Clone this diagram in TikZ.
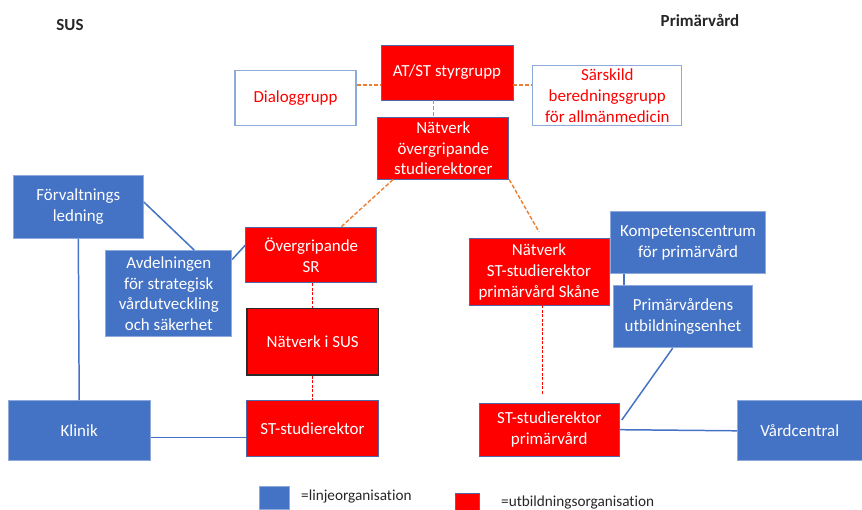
\documentclass[tikz,border=0pt]{standalone}
\usepackage{fontspec}
\setmainfont[Ligatures={NoCommon}]{Carlito}
\usetikzlibrary{calc}
\definecolor{lineblue}{HTML}{4472C4}
\definecolor{lightblue}{HTML}{8EAADB}
\definecolor{redfill}{HTML}{FF0000}
\definecolor{redborder}{HTML}{4F69A8}
\definecolor{orangeline}{HTML}{ED7D31}
\definecolor{darkborder}{HTML}{2B2B2B}
\tikzset{
  box/.style={rectangle, inner sep=0pt, align=center, font=\fontsize{17}{21}\selectfont},
  bluebox/.style={box, fill=lineblue, draw=lightblue, line width=1pt, text=white},
  redbox/.style={box, fill=redfill, draw=redborder, line width=0.9pt, text=white},
  whitebox/.style={box, fill=white, draw=lightblue, line width=1.1pt, text=redfill},
  orangedash/.style={draw=orangeline, line width=1.4pt, dash pattern=on 4pt off 2pt},
  reddash/.style={draw=redfill, line width=1.4pt, dash pattern=on 3pt off 1.5pt},
  blueline/.style={draw=lineblue, line width=1.5pt},
  header/.style={font=\fontsize{17}{21}\selectfont\bfseries, text=black!85},
  legendtext/.style={font=\fontsize{15.3}{18}\selectfont, text=black!85, anchor=west, inner sep=0pt}
}
\begin{document}
\begin{tikzpicture}[x=1bp,y=-1bp]
\useasboundingbox (0,0) rectangle (862,510);

% headers
\node[header] (sus) at (70,25) {SUS};
\node[header] (prim) at (700,20) {Primärvård};

% top
\node[whitebox, minimum width=121bp, minimum height=55bp] (dialog) at (295.5,98.3) {Dialoggrupp};
\node[whitebox, minimum width=149bp, minimum height=60bp] (sar) at (607.3,95.8) {Särskild\\beredningsgrupp\\för allmänmedicin};

\coordinate (yl) at (0,85);
\coordinate (xv) at (433.3,0);

\node[redbox, minimum width=132bp, minimum height=55bp] (at) at (447,72.5) {AT/ST styrgrupp};
\node[redbox, minimum width=131bp, minimum height=62bp] (nov) at (443.3,148.2) {Nätverk\\övergripande\\studierektorer};

% SUS side
\node[bluebox, minimum width=130bp, minimum height=62.6bp] (forv) at (78.3,207) {Förvaltnings\\ledning};
\node[bluebox, minimum width=125.7bp, minimum height=86bp] (avd) at (168.8,293.7) {Avdelningen\\för strategisk\\vårdutveckling\\och säkerhet};
\node[redbox, minimum width=131bp, minimum height=55bp] (ovsr) at (311.2,255.2) {Övergripande\\SR};
\node[redbox, draw=darkborder, line width=1.5pt, minimum width=131.3bp, minimum height=66.7bp] (nsus) at (312.7,341.7) {Nätverk i SUS};
\node[redbox, minimum width=131.6bp, minimum height=55.3bp] (stsus) at (312.5,428.3) {ST-studierektor};
\node[bluebox, minimum width=141.7bp, minimum height=60.3bp] (klinik) at (79.2,430.8) {Klinik};

% Primärvård side
\node[redbox, minimum width=140bp, minimum height=66.7bp] (nst) at (539,271.7) {Nätverk\\ST-studierektor\\primärvård Skåne};
\node[bluebox, minimum width=155.4bp, minimum height=61.6bp] (komp) at (688,242.5) {Kompetenscentrum\\för primärvård};
\node[bluebox, minimum width=138.6bp, minimum height=61.7bp] (puth) at (683,316.8) {Primärvårdens\\utbildningsenhet};
\node[redbox, minimum width=140.3bp, minimum height=52.7bp] (stpv) at (549.2,429.7) {ST-studierektor\\primärvård};
\node[bluebox, minimum width=124.7bp, minimum height=60.3bp] (vard) at (799.7,430.8) {Vårdcentral};

% dashed connectors
\draw[orangedash] (dialog.east |- yl) -- (at.west |- yl);
\draw[orangedash] (at.east |- yl) -- (sar.west |- yl);
\draw[orangedash] (at.south -| xv) -- (nov.north -| xv);
\draw[orangedash] ($(nov.south west)+(15.6,0)$) -- ($(ovsr.north)+(29.5,0)$);
\draw[orangedash] (nov.south east) -- ($(nst.north)+(0,-6)$);
\draw[reddash] (nsus.north |- ovsr.south) -- (nsus.north);
\draw[reddash] (nsus.south) -- (nsus.south |- stsus.north);
\draw[reddash] ($(nst.south)+(3.3,0)$) -- ($(stpv.north)+(-6.9,-9)$);

% solid connectors
\draw[blueline] ($(forv.east)+(0,-5)$) -- ($(avd.north)+(25.5,0)$);
\draw[blueline] ($(avd.north east)+(0,9.3)$) -- ($(ovsr.west)+(0,-10)$);
\draw[blueline] (forv.south) -- (klinik.north);
\draw[blueline] ($(klinik.east)+(0,6.5)$) -- (stsus.west |- {$(klinik.east)+(0,6.5)$});
\draw[blueline] (komp.south -| 624,0) -- (puth.north -| 624,0);
\draw[blueline] ($(puth.south)+(-10.3,0)$) -- ($(stpv.east)+(2,-9.7)$);
\draw[blueline] (stpv.east) -- (vard.west);

% legend
\node[rectangle, fill=lineblue, draw=lightblue, line width=1pt, minimum width=30bp, minimum height=23bp, inner sep=0pt] (legblue) at (274.3,498) {};
\node[legendtext] (legbluet) at (301,497) {=linjeorganisation};
\node[rectangle, fill=redfill, draw=redborder, line width=0.9pt, minimum width=23.6bp, minimum height=18bp, inner sep=0pt] (legred) at (467.5,502) {};
\node[legendtext] (legredt) at (501,503) {=utbildningsorganisation};
\end{tikzpicture}
\end{document}
